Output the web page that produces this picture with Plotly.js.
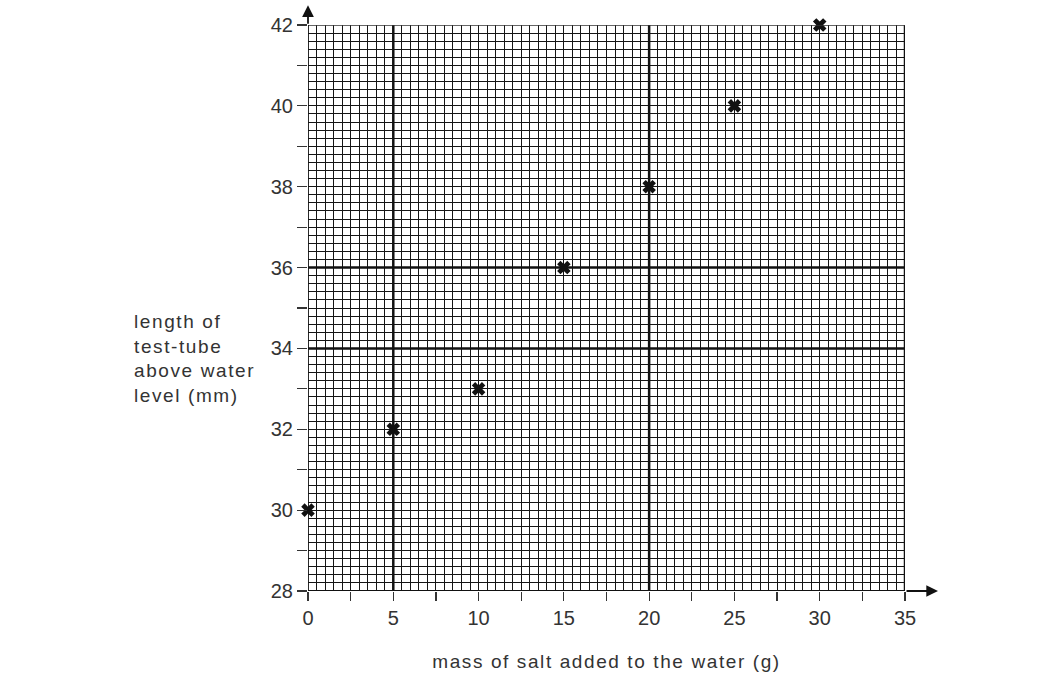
<!DOCTYPE html>
<html>
<head>
<meta charset="utf-8">
<script src="https://cdn.plot.ly/plotly-3.0.1.min.js"></script>
<style>
html,body{margin:0;padding:0;background:#fff;}
#chart{width:1062px;height:687px;}
#chart .g-x2title text, #chart .annotation-text{letter-spacing:1.6px;}
</style>
</head>
<body>
<div id="chart"></div>
<script>
const massSalt = [0, 5, 10, 15, 20, 25, 30];
const lengthAbove = [30, 32, 33, 36, 38, 40, 42];
const xTickVals = [0, 2.5, 5, 7.5, 10, 12.5, 15, 17.5, 20, 22.5, 25, 27.5, 30, 32.5, 35];
const xTickText = ['0', '', '5', '', '10', '', '15', '', '20', '', '25', '', '30', '', '35'];
const yTickVals = [28, 29, 30, 31, 32, 33, 34, 35, 36, 37, 38, 39, 40, 41, 42];
const yTickText = ['28', '', '30', '', '32', '', '34', '', '36', '', '38', '', '40', '', '42'];

const tickFont = {family: 'Liberation Sans, Arial, sans-serif', size: 20, color: '#333'};
const textFont = {family: 'Liberation Sans, Arial, sans-serif', size: 19, color: '#333'};
const gridColor = '#141414';

const gridTrace = {x: [], y: [], type: 'scatter', mode: 'markers', xaxis: 'x', yaxis: 'y', hoverinfo: 'skip'};
const trace = {
  x: massSalt, y: lengthAbove, type: 'scatter', mode: 'markers',
  xaxis: 'x2', yaxis: 'y2',
  marker: {symbol: 'x', size: 12, color: '#111', line: {width: 0}},
  cliponaxis: false, hoverinfo: 'x+y'
};

const layout = {
  width: 1062, height: 687,
  margin: {l: 308, r: 157, t: 25, b: 96},
  paper_bgcolor: '#fff', plot_bgcolor: '#fff',
  showlegend: false,
  font: tickFont,
  xaxis: {
    range: [0, 35], tickmode: 'linear', tick0: 0, dtick: 0.5,
    showticklabels: false, ticks: '',
    showgrid: true, gridcolor: gridColor, gridwidth: 1,
    showline: false, zeroline: false, fixedrange: true
  },
  yaxis: {
    range: [28, 42], tickmode: 'linear', tick0: 28, dtick: 0.2,
    showticklabels: false, ticks: '',
    showgrid: true, gridcolor: gridColor, gridwidth: 1,
    showline: false, zeroline: false, fixedrange: true
  },
  xaxis2: {
    overlaying: 'x', anchor: 'y2', side: 'bottom',
    range: [0, 35], tickmode: 'array', tickvals: xTickVals, ticktext: xTickText,
    ticks: 'outside', ticklen: 9, tickwidth: 1.2, tickcolor: '#333',
    showgrid: false, showline: false, zeroline: false, fixedrange: true,
    tickfont: tickFont,
    title: {text: 'mass of salt added to the water (g)', font: textFont, standoff: 26}
  },
  yaxis2: {
    overlaying: 'y', anchor: 'x2', side: 'left',
    range: [28, 42], tickmode: 'array', tickvals: yTickVals, ticktext: yTickText,
    ticks: 'outside', ticklen: 10, tickwidth: 1.2, tickcolor: '#333',
    showgrid: false, showline: false, zeroline: false, fixedrange: true,
    tickfont: tickFont
  },
  shapes: [
    {type: 'line', xref: 'x', yref: 'paper', x0: 5, x1: 5, y0: 0, y1: 1, line: {color: '#111', width: 2.5}},
    {type: 'line', xref: 'x', yref: 'paper', x0: 20, x1: 20, y0: 0, y1: 1, line: {color: '#111', width: 2.5}},
    {type: 'line', xref: 'x', yref: 'paper', x0: 35, x1: 35, y0: 0, y1: 1, line: {color: '#111', width: 2.5}},
    {type: 'line', xref: 'paper', yref: 'y', x0: 0, x1: 1, y0: 34, y1: 34, line: {color: '#111', width: 2.5}},
    {type: 'line', xref: 'paper', yref: 'y', x0: 0, x1: 1, y0: 36, y1: 36, line: {color: '#111', width: 2.5}},
    {type: 'line', xref: 'paper', yref: 'y', x0: 0, x1: 1, y0: 42, y1: 42, line: {color: '#333', width: 1.5}},
    {type: 'line', xref: 'paper', yref: 'y', x0: 0, x1: 1, y0: 28, y1: 28, line: {color: '#111', width: 1.8}},
    {type: 'line', xref: 'x', yref: 'paper', x0: 0, x1: 0, y0: 0, y1: 1, line: {color: '#111', width: 1.8}}
  ],
  annotations: [
    {xref: 'paper', yref: 'y', x: 1.0553, y: 28, ax: -33, ay: 0, axref: 'pixel', ayref: 'pixel',
     text: '', showarrow: true, arrowhead: 2, arrowsize: 1.3, arrowwidth: 1.8, arrowcolor: '#111'},
    {xref: 'x', yref: 'paper', x: 0, y: 1.035, ax: 0, ay: 20, axref: 'pixel', ayref: 'pixel',
     text: '', showarrow: true, arrowhead: 2, arrowsize: 1.3, arrowwidth: 1.8, arrowcolor: '#111'},
    {xref: 'paper', yref: 'paper', x: -0.295, y: 0.41, xanchor: 'left', yanchor: 'middle', align: 'left',
     text: 'length of<br>test-tube<br>above water<br>level (mm)', showarrow: false, font: textFont}
  ]
};

Plotly.newPlot('chart', [gridTrace, trace], layout, {displayModeBar: false, staticPlot: true});
</script>
</body>
</html>
